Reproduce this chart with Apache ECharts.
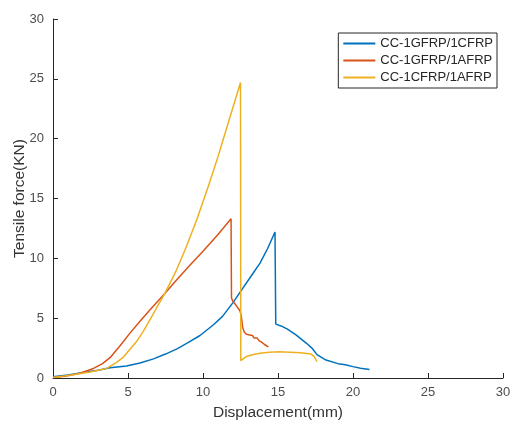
<!DOCTYPE html>
<html><head><meta charset="utf-8">
<script src="https://cdn.jsdelivr.net/npm/echarts@6/dist/echarts.min.js"></script>
<style>html,body{margin:0;padding:0;background:#fff}#c{width:512px;height:421px}</style>
</head><body><div id="c"></div>
<script>
var seriesNames = ['CC-1GFRP/1CFRP', 'CC-1GFRP/1AFRP', 'CC-1CFRP/1AFRP'];
var xTicks = [0, 5, 10, 15, 20, 25, 30];
var yTicks = [0, 5, 10, 15, 20, 25, 30];
var blueData = [[0,0.1],[1,0.25],[2,0.45],[3,0.65],[3.8,0.85],[4.9,1.0],[5.8,1.25],[6.7,1.6],[7.5,2.0],[8.3,2.45],[9.0,2.95],[9.8,3.55],[10.7,4.45],[11.3,5.15],[12.0,6.3],[12.6,7.4],[13.2,8.5],[13.8,9.6],[14.3,10.8],[14.8,12.2],[14.85,4.5],[15.2,4.35],[15.6,4.1],[16.2,3.6],[16.9,2.9],[17.3,2.45],[17.6,1.95],[18.2,1.5],[19.0,1.2],[19.5,1.1],[20.0,0.95],[20.5,0.82],[21.1,0.72]];
var redData = [[0,0.05],[0.8,0.15],[1.8,0.4],[2.7,0.8],[3.3,1.2],[3.8,1.7],[4.47,2.7],[5.13,3.75],[5.8,4.75],[6.47,5.7],[7.47,7.09],[8.0,7.85],[9.0,9.25],[10.0,10.6],[11.0,12.0],[11.87,13.3],[11.9,6.67],[12.0,6.4],[12.13,6.2],[12.3,5.9],[12.47,5.6],[12.55,5.2],[12.6,4.7],[12.65,4.2],[12.75,3.85],[12.9,3.65],[13.1,3.6],[13.3,3.55],[13.4,3.35],[13.6,3.35],[13.75,3.1],[13.9,3.0],[14.1,2.8],[14.36,2.6]];
var yellowData = [[0,0.05],[1,0.2],[2.47,0.5],[3.58,0.8],[4.24,1.3],[4.7,1.75],[5.13,2.4],[5.6,3.1],[6.02,3.9],[6.5,4.95],[6.9,5.85],[7.47,7.09],[8.24,9.04],[8.8,10.7],[9.58,13.2],[10.35,16.0],[11.0,18.5],[11.7,21.4],[12.5,24.7],[12.52,1.45],[12.9,1.8],[13.3,1.95],[13.8,2.07],[14.4,2.15],[15.1,2.2],[15.8,2.15],[16.5,2.1],[17.2,2.0],[17.4,1.8],[17.6,1.37]];
var colors = ['#0072BD', '#D95319', '#EDB120'];

var chart = echarts.init(document.getElementById('c'));
var font = 'Liberation Sans, Arial, sans-serif';
var axisCommon = {
  min: 0, max: 30, interval: 5,
  axisLine: {show: true, lineStyle: {color: '#262626', width: 1}},
  axisTick: {show: true, inside: true, length: 5, lineStyle: {color: '#262626'}},
  axisLabel: {color: '#4d4d4d', fontSize: 13, fontFamily: font},
  splitLine: {show: false},
  nameLocation: 'middle',
  nameTextStyle: {color: '#333', fontSize: 15.5, fontFamily: font}
};
chart.setOption({
  animation: false,
  color: colors,
  grid: {left: 53, right: 9, top: 19, bottom: 43, containLabel: false, outerBoundsMode: 'none'},
  legend: {
    orient: 'vertical', right: 15, top: 33,
    data: seriesNames,
    icon: 'rect', itemWidth: 32, itemHeight: 2, itemGap: 4,
    borderColor: '#262626', borderWidth: 1, padding: [4, 4, 4, 5],
    textStyle: {color: '#262626', fontSize: 13, fontFamily: font}
  },
  xAxis: Object.assign({}, axisCommon, {type: 'value', name: 'Displacement(mm)', nameGap: 27,
    axisLabel: Object.assign({}, axisCommon.axisLabel, {margin: 8})}),
  yAxis: Object.assign({}, axisCommon, {type: 'value', name: 'Tensile force(KN)', nameGap: 25, nameMoveOverlap: false,
    axisLabel: Object.assign({}, axisCommon.axisLabel, {margin: 9})}),
  series: [
    {name: seriesNames[0], type: 'line', data: blueData, showSymbol: false, lineStyle: {width: 1.5}},
    {name: seriesNames[1], type: 'line', data: redData, showSymbol: false, lineStyle: {width: 1.5}},
    {name: seriesNames[2], type: 'line', data: yellowData, showSymbol: false, lineStyle: {width: 1.5}}
  ]
});
</script></body></html>
